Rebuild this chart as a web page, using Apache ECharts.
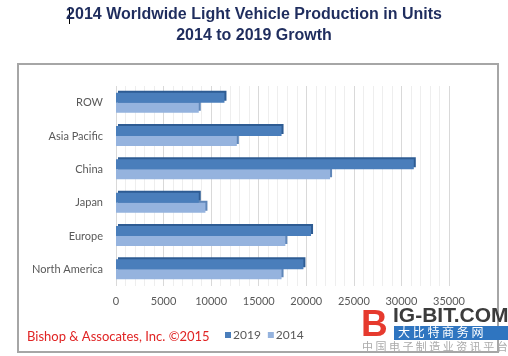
<!DOCTYPE html>
<html><head><meta charset="utf-8">
<script src="https://cdn.jsdelivr.net/npm/echarts@6/dist/echarts.min.js"></script>
<style>html,body{margin:0;padding:0;background:#fff}#c{width:508px;height:356px}</style>
</head><body><div id="c"></div>
<script>
// categories listed bottom-to-top (ECharts y category axis runs upward)
const categories = ['North America', 'Europe', 'Japan', 'China', 'Asia Pacific', 'ROW'];
const values2019 = [19700, 20500, 8700, 31300, 17400, 11400];
const values2014 = [17400, 17800, 9400, 22500, 12700, 8700];
const xTicks = [0, 5000, 10000, 15000, 20000, 25000, 30000, 35000];

const chart = echarts.init(document.getElementById('c'));
chart.setOption({
  animation: false,
  backgroundColor: '#fff',
  title: {
    text: '2014 Worldwide Light Vehicle Production in Units\n2014 to 2019 Growth',
    left: 'center', top: 4, padding: 0,
    textStyle: { fontFamily: 'Liberation Sans', fontWeight: 'bold', fontSize: 16, color: '#1f2d5e', lineHeight: 21 }
  },
  legend: {
    data: ['2019', '2014'], left: 220, top: 324, itemWidth: 6, itemHeight: 6, itemGap: 7,
    icon: 'rect',
    textStyle: { fontFamily: 'Lato', fontSize: 12, color: '#595959', padding: [0, 0, 0, -3] }
  },
  grid: { left: 116, width: 333, top: 86, height: 200, containLabel: false },
  xAxis: {
    type: 'value', min: xTicks[0], max: xTicks[xTicks.length - 1], interval: 5000,
    axisLine: { show: false }, axisTick: { show: false },
    axisLabel: { margin: 10, fontFamily: 'Lato', fontSize: 11, color: '#595959', formatter: v => String(v) },
    splitLine: { show: true, lineStyle: { color: '#d9d9d9', width: 1 } },
    minorTick: { show: false, splitNumber: 5 },
    minorSplitLine: { show: true, lineStyle: { color: '#eeeeee', width: 1 } }
  },
  yAxis: {
    type: 'category', data: categories,
    axisLine: { show: false }, axisTick: { show: false },
    axisLabel: { margin: 13, fontFamily: 'Lato', fontSize: 11, color: '#595959' }
  },
  series: [
    {
      name: '2019', type: 'bar', data: values2019, barWidth: 10, barGap: '0%', z: 3,
      itemStyle: { color: '#4a7ebb', shadowColor: '#2e5c93', shadowOffsetX: 2, shadowOffsetY: -2, shadowBlur: 0 }
    },
    {
      name: '2014', type: 'bar', data: values2014, barWidth: 10, barGap: '0%', z: 2,
      itemStyle: { color: '#95b3de', shadowColor: '#5f86b8', shadowOffsetX: 2, shadowOffsetY: -2, shadowBlur: 0 }
    }
  ],
  graphic: [
    { type: 'rect', shape: { x: 18, y: 64, width: 480, height: 288 }, style: { fill: 'none', stroke: '#a6a6a6', lineWidth: 2 }, z: -1 },
    { type: 'rect', shape: { x: 69, y: 7, width: 1, height: 17 }, style: { fill: '#000' } },
    { type: 'text', left: 27, top: 330, style: { text: 'Bishop & Assocates, Inc. ©2015', fontFamily: 'Lato', fontSize: 13, fill: '#e02424' } },
    { type: 'text', left: 361, top: 307, style: { text: 'B', fontFamily: 'Liberation Sans', fontWeight: 'bold', fontSize: 37, fill: '#e63a2e' } },
    { type: 'text', left: 393, top: 306, style: { text: 'IG-BIT.COM', fontFamily: 'Liberation Sans', fontWeight: 'bold', fontSize: 21, fill: '#3c3c3c' } },
    { type: 'rect', shape: { x: 394, y: 326, width: 114, height: 14 }, style: { fill: '#2f75c0' } },
    { type: 'text', left: 398, top: 326, style: { text: '大 比 特 商 务 网', fontFamily: 'Noto Sans CJK SC', fontSize: 12, fill: '#fff' } },
    { type: 'text', left: 362, top: 341, style: { text: '中 国 电 子 制 造 业 资 讯 平 台', fontFamily: 'Noto Sans CJK SC', fontSize: 11, fill: '#aaaaaa' } }
  ]
});
</script></body></html>
